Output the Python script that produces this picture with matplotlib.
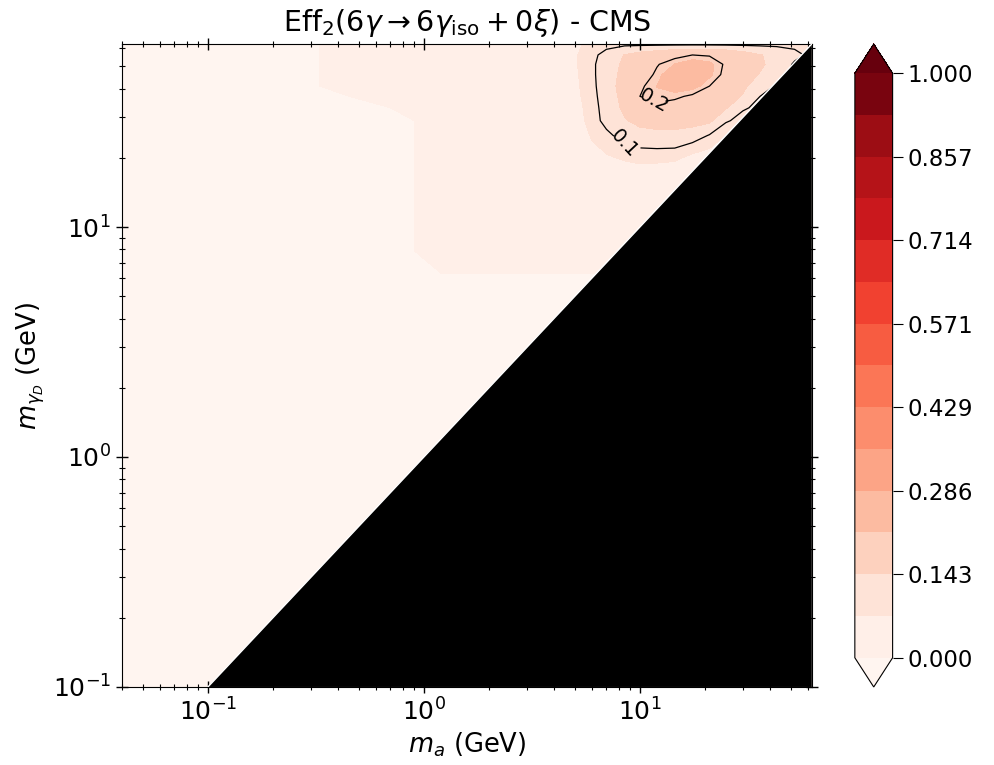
import numpy as np
import matplotlib.pyplot as plt

# grid of generated masses (GeV)
m_a = [0.04, 0.2, 0.33, 0.45, 0.7, 0.9, 1.2, 2, 3, 4, 5, 6, 7, 8.5,
       10, 12, 14.5, 17.5, 21, 25, 30, 36, 43, 52, 62.5]
m_gd = [0.1, 1, 3, 5, 6.3, 7.9, 10, 12.6, 15.8, 20, 25, 29, 33, 37,
        41, 46, 51, 56, 62.5]

# efficiency, one row per m_gd value (bottom to top), one column per m_a
eff = [
    [0] * 25,
    [0] * 25,
    [0] * 25,
    [0] * 25,
    [0] * 25,
    [0, 0, 0, 0, 0, 0, 0.005, 0.01, 0.01, 0.015, 0.02, 0.02, 0.02, 0.012, 0.012,
     0.015, 0.015, 0.015, 0.015, 0.015, 0.015, 0.015, 0.015, 0.015, 0.015],
    [0, 0, 0, 0, 0, 0, 0.01, 0.015, 0.015, 0.02, 0.03, 0.03, 0.03, 0.03, 0.025,
     0.025, 0.025, 0.025, 0.025, 0.025, 0.025, 0.025, 0.025, 0.025, 0.025],
    [0, 0, 0, 0, 0, 0, 0.01, 0.015, 0.02, 0.025, 0.035, 0.04, 0.04, 0.04, 0.035,
     0.03, 0.035, 0.035, 0.035, 0.035, 0.035, 0.035, 0.035, 0.035, 0.035],
    [0, 0, 0, 0, 0, 0, 0.015, 0.02, 0.025, 0.03, 0.04, 0.05, 0.05, 0.05, 0.05,
     0.045, 0.04, 0.045, 0.045, 0.045, 0.045, 0.045, 0.045, 0.045, 0.045],
    [0, 0, 0, 0, 0, 0, 0.015, 0.02, 0.03, 0.035, 0.045, 0.06, 0.068, 0.075, 0.08,
     0.08, 0.078, 0.062, 0.055, 0.055, 0.055, 0.055, 0.055, 0.055, 0.055],
    [0, 0, 0, 0, 0, 0, 0.02, 0.025, 0.035, 0.04, 0.05, 0.075, 0.092, 0.115, 0.128,
     0.132, 0.132, 0.12, 0.097, 0.07, 0.075, 0.075, 0.075, 0.075, 0.075],
    [0, 0, 0, 0, 0, 0, 0.02, 0.03, 0.04, 0.045, 0.055, 0.085, 0.112, 0.14, 0.155,
     0.16, 0.16, 0.162, 0.152, 0.105, 0.085, 0.085, 0.085, 0.085, 0.085],
    [0, 0, 0, 0, 0, 0.01, 0.02, 0.03, 0.04, 0.05, 0.06, 0.085, 0.118, 0.152, 0.178,
     0.192, 0.188, 0.182, 0.172, 0.147, 0.105, 0.09, 0.09, 0.09, 0.09],
    [0, 0, 0, 0, 0.01, 0.015, 0.025, 0.035, 0.045, 0.05, 0.063, 0.088, 0.122, 0.157, 0.2,
     0.21, 0.205, 0.195, 0.18, 0.16, 0.14, 0.1, 0.095, 0.095, 0.09],
    [0, 0, 0, 0.01, 0.015, 0.02, 0.025, 0.035, 0.045, 0.052, 0.065, 0.09, 0.126, 0.16, 0.195,
     0.215, 0.23, 0.225, 0.2, 0.175, 0.15, 0.12, 0.095, 0.095, 0.09],
    [0, 0, 0, 0.01, 0.02, 0.025, 0.03, 0.04, 0.045, 0.055, 0.066, 0.092, 0.126, 0.155, 0.185,
     0.205, 0.24, 0.25, 0.22, 0.19, 0.165, 0.14, 0.11, 0.095, 0.09],
    [0, 0, 0, 0.01, 0.02, 0.03, 0.035, 0.04, 0.045, 0.055, 0.068, 0.092, 0.126, 0.15, 0.175,
     0.198, 0.215, 0.228, 0.22, 0.195, 0.17, 0.15, 0.125, 0.095, 0.09],
    [0, 0, 0, 0.01, 0.02, 0.03, 0.035, 0.04, 0.045, 0.055, 0.068, 0.09, 0.115, 0.145, 0.16,
     0.175, 0.19, 0.2, 0.197, 0.185, 0.165, 0.145, 0.13, 0.11, 0.09],
    [0, 0, 0, 0.01, 0.02, 0.03, 0.03, 0.04, 0.04, 0.05, 0.065, 0.08, 0.085, 0.09, 0.09,
     0.09, 0.09, 0.09, 0.09, 0.09, 0.09, 0.09, 0.09, 0.09, 0.095],
]

contour_levels = [0.1, 0.2]
cbar_ticks = np.linspace(0, 1, 8)

fig = plt.figure(figsize=(9.94, 7.65), dpi=100)
ax = fig.add_axes([0.1227, 0.102, 0.694, 0.8405])
cax = fig.add_axes([0.860, 0.102, 0.038, 0.8405])

levels = np.linspace(0, 1, 15)
cs = ax.contourf(m_a, m_gd, eff, levels=levels, cmap='Reds', extend='both', zorder=1)
cl = ax.contour(m_a, m_gd, eff, levels=contour_levels, colors='black',
                linewidths=0.9, zorder=2)
ax.clabel(cl, fmt='%.1f', fontsize=14, inline=True,
          manual=[(7.5, 22), (11.1, 34.8)])

ax.set_xscale('log')
ax.set_yscale('log')
ax.set_xlim(m_a[0], m_a[-1])
ax.set_ylim(m_gd[0], m_gd[-1])

# kinematically forbidden region m_gd > m_a
lo, hi = ax.get_ylim()[0], ax.get_xlim()[1]
ax.fill([lo, hi, hi], [lo, hi, lo], color='black', lw=0, zorder=3)
ax.plot([lo, hi], [lo, hi], color='white', lw=1.0, zorder=3)

ax.tick_params(which='both', direction='inout', top=True, right=True,
               labelsize=18)
ax.tick_params(which='major', length=9, width=1)
ax.tick_params(which='minor', length=5, width=0.8)
ax.set_xlabel(r'$m_a$ (GeV)', fontsize=18.5)
ax.set_ylabel(r'$m_{\gamma_D}$ (GeV)', fontsize=18.5)
ax.set_title(r'Eff$_2(6\gamma \rightarrow 6\gamma_{\rm iso} + 0\xi)$ - CMS',
             fontsize=20.5, pad=9)

cb = fig.colorbar(cs, cax=cax, ticks=cbar_ticks, format='%.3f')
cb.ax.tick_params(labelsize=16.5, length=7)

fig.savefig('out.png', dpi=100)
